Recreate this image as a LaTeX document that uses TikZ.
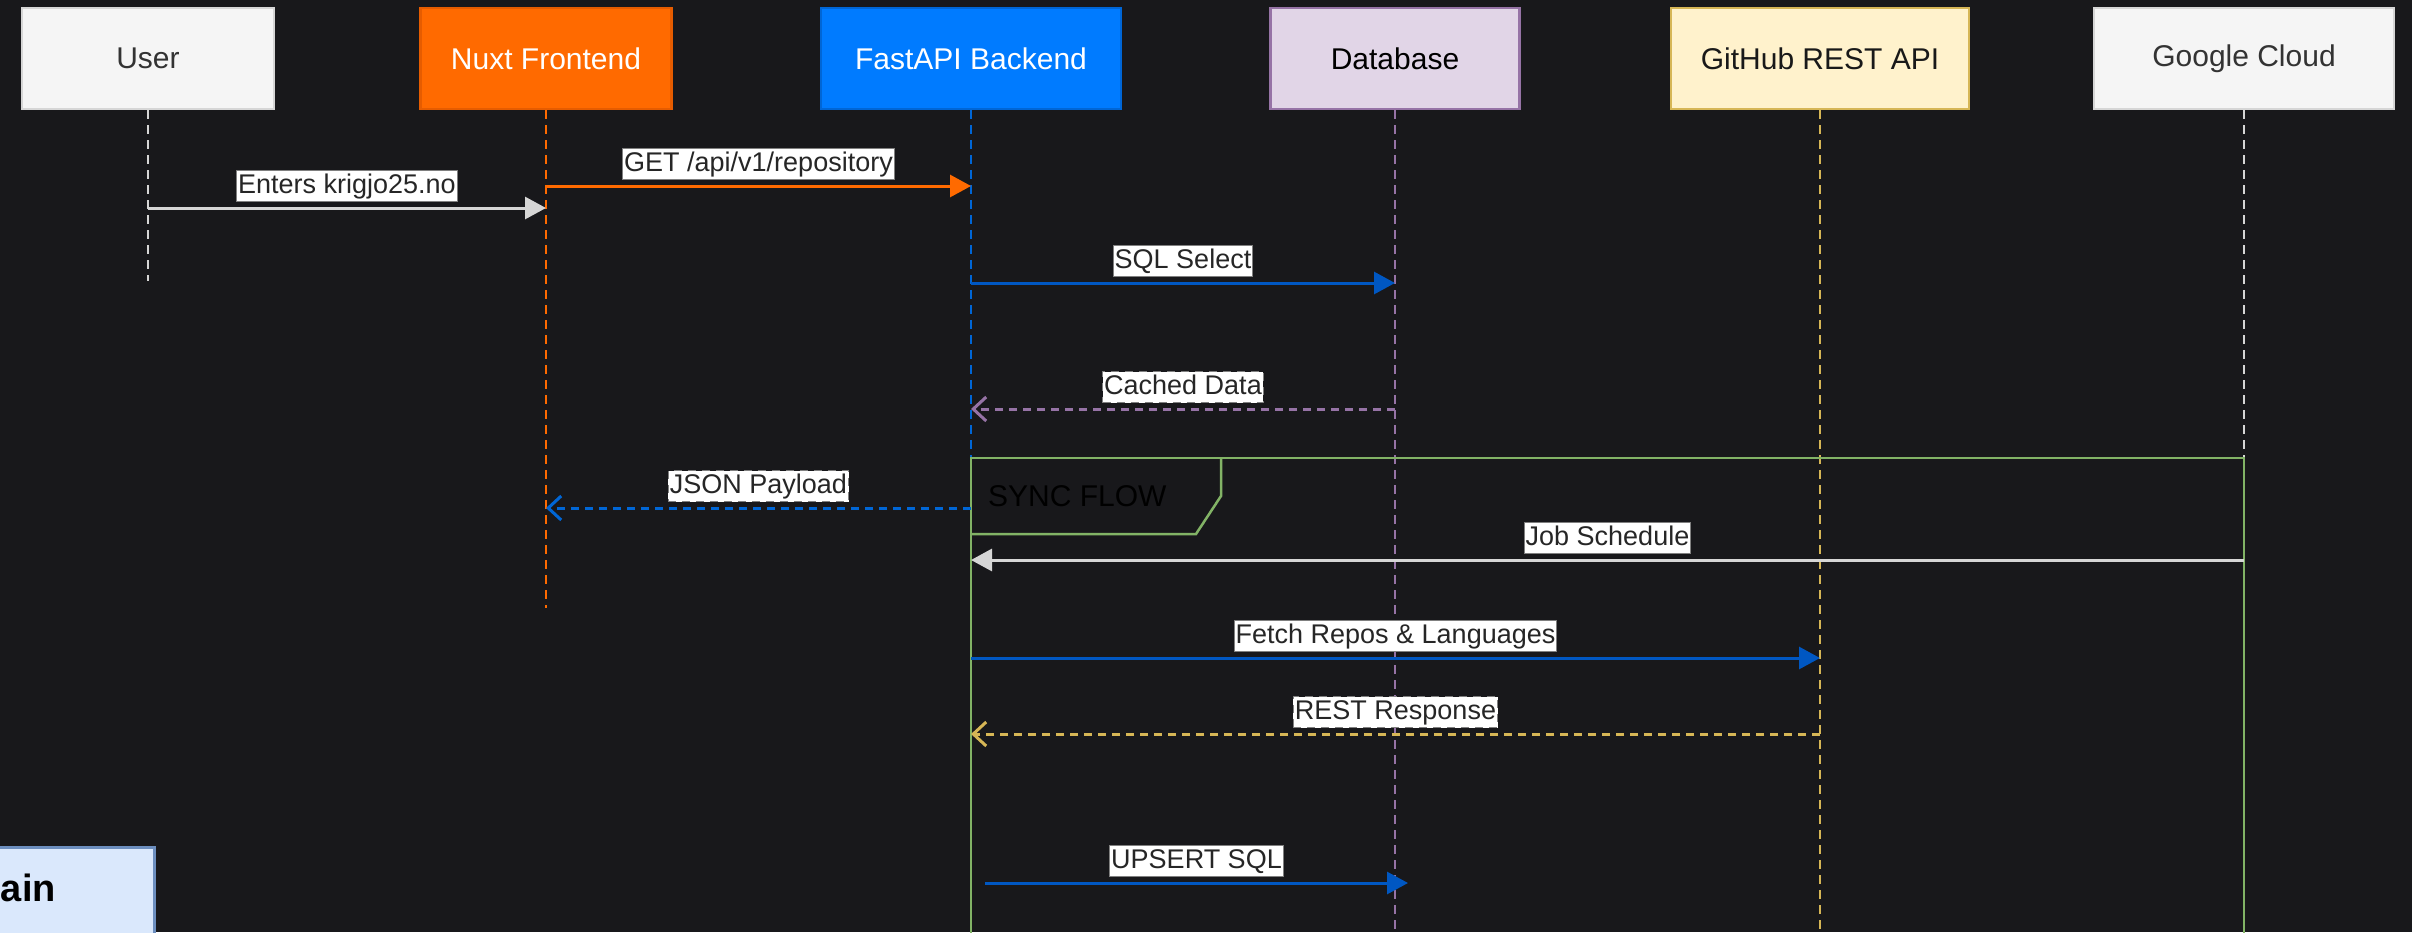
\documentclass[tikz,border=0pt]{standalone}
\usepackage{fontspec}
\setmainfont{Liberation Sans}
\usetikzlibrary{arrows.meta}
\definecolor{bg}{RGB}{24,24,27}
\definecolor{boxgrey}{HTML}{F5F5F5}
\definecolor{greyline}{HTML}{D6D6D6}
\definecolor{nuxt}{HTML}{FF6A00}
\definecolor{nuxtline}{HTML}{E65C00}
\definecolor{fastapi}{HTML}{007BFF}
\definecolor{fastline}{HTML}{0066D6}
\definecolor{dbfill}{HTML}{E1D5E7}
\definecolor{dbline}{HTML}{9673A6}
\definecolor{ghfill}{HTML}{FFF2CC}
\definecolor{ghline}{HTML}{D6B656}
\definecolor{msgblue}{HTML}{0057C2}
\definecolor{framegreen}{HTML}{82B366}
\definecolor{mainfill}{HTML}{DAE8FC}
\definecolor{mainline}{HTML}{6C8EBF}
\begin{document}
\begin{tikzpicture}[x=1bp,y=-1bp,
  actor/.style={minimum height=101bp, line width=2.5bp, inner sep=0pt,
    font=\fontsize{30bp}{36bp}\selectfont},
  lifeline/.style={line width=2bp, dash pattern=on 9bp off 6bp},
  msg/.style={line width=3bp, -{Triangle[length=21bp,width=22bp]}},
  ret/.style={line width=3bp, dash pattern=on 8bp off 6bp,
    -{Straight Barb[length=13bp,width=24bp,line width=3bp]}},
  lbl/.style={midway, yshift=22bp, fill=white, draw=gray, line width=1bp,
    text=black!85, inner xsep=1.5bp, inner ysep=2bp,
    text height=21bp, text depth=6bp,
    font=\fontsize{27bp}{32bp}\selectfont}
]
\fill[bg] (0,0) rectangle (2412,932);
\useasboundingbox (0,0) rectangle (2412,932);

% participants
\node[actor, minimum width=252bp, fill=boxgrey, draw=greyline, text=black!80] (user) at (148,58.5) {User};
\node[actor, minimum width=251bp, fill=nuxt, draw=nuxtline, text=white] (nuxt) at (546,58.5) {Nuxt Frontend};
\node[actor, minimum width=300bp, fill=fastapi, draw=fastline, text=white] (fast) at (971,58.5) {FastAPI Backend};
\node[actor, minimum width=249bp, fill=dbfill, draw=dbline, text=black] (db) at (1395,58.5) {Database};
\node[actor, minimum width=298bp, fill=ghfill, draw=ghline, text=black!90] (gh) at (1820,58.5) {GitHub REST API};
\node[actor, minimum width=300bp, fill=boxgrey, draw=greyline, text=black!80] (gc) at (2244,58.5) {Google Cloud};

% lifelines
\draw[lifeline, greyline] (user.south) -- (user.south |- 0,281);
\draw[lifeline, nuxt] (nuxt.south) -- (nuxt.south |- 0,608);
\draw[lifeline, fastline] (fast.south) -- (fast.south |- 0,940);
\draw[lifeline, dbline] (db.south) -- (db.south |- 0,940);
\draw[lifeline, ghline] (gh.south) -- (gh.south |- 0,940);
\draw[lifeline, greyline] (gc.south) -- (gc.south |- 0,940);

% sync frame
\draw[framegreen, line width=2.5bp] (fast |- 0,458) rectangle (gc |- 0,960);
\draw[framegreen, line width=2.5bp] (fast |- 0,534) -- (1196,534) -- (1221,496) -- (1221,458);
\node[anchor=west, inner sep=0pt, text=black, font=\fontsize{30bp}{36bp}\selectfont] (sync) at (988,496) {SYNC FLOW};

% messages
\draw[msg, greyline] (user |- 0,208) -- node[lbl]{Enters krigjo25.no} (nuxt |- 0,208);
\draw[msg, nuxt] (nuxt |- 0,186) -- node[lbl]{GET /api/v1/repository} (fast |- 0,186);
\draw[msg, msgblue] (fast |- 0,283) -- node[lbl]{SQL Select} (db |- 0,283);
\draw[ret, dbline] (db |- 0,409) -- node[lbl]{Cached Data} (fast |- 0,409);
\draw[ret, fastline] (fast |- 0,508) -- node[lbl]{JSON Payload} (nuxt |- 0,508);
\draw[msg, greyline] (gc |- 0,560) -- node[lbl]{Job Schedule} (fast |- 0,560);
\draw[msg, msgblue] (fast |- 0,658) -- node[lbl]{Fetch Repos \& Languages} (gh |- 0,658);
\draw[ret, ghline] (gh |- 0,734) -- node[lbl]{REST Response} (fast |- 0,734);
\coordinate (upsstart) at (985,883);
\coordinate (upsend) at (1408,883);
\draw[msg, msgblue] (upsstart) -- node[lbl]{UPSERT SQL} (upsend);

% partial box bottom left
\draw[mainline, fill=mainfill, line width=3bp] (-20,847) rectangle (154,960);
\node[anchor=base east, inner sep=0pt, text=black, font=\bfseries\fontsize{38bp}{44bp}\selectfont] (mainlbl) at (56,901) {ain};
\end{tikzpicture}
\end{document}
